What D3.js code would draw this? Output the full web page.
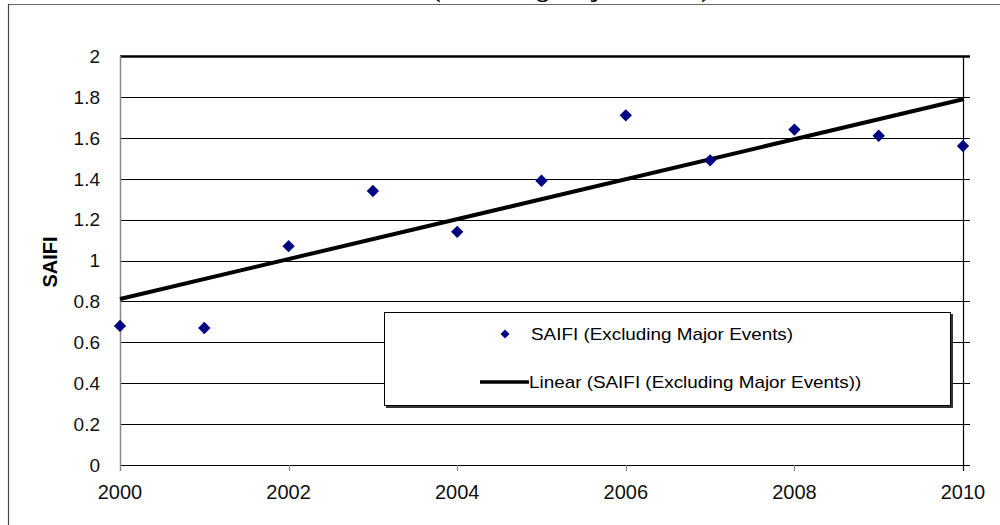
<!DOCTYPE html>
<html><head><meta charset="utf-8">
<script src="https://cdn.jsdelivr.net/npm/d3@7"></script>
<style>body{margin:0;background:#fff}svg{display:block}</style>
</head><body>
<svg id="c" width="1000" height="525"></svg>
<script>
const years = [2000,2001,2002,2003,2004,2005,2006,2007,2008,2009,2010];
const saifi = [0.68,0.67,1.07,1.34,1.14,1.39,1.71,1.49,1.64,1.61,1.56];
const xTicks = [2000,2002,2004,2006,2008,2010];
const yTicks = [0,0.2,0.4,0.6,0.8,1,1.2,1.4,1.6,1.8,2];
const yTickLabels = ["0","0.2","0.4","0.6","0.8","1","1.2","1.4","1.6","1.8","2"];
const titleText = "(Excluding Major Events)";
const yLabel = "SAIFI";
const legendLabels = ["SAIFI (Excluding Major Events)","Linear (SAIFI (Excluding Major Events))"];

const svg = d3.select("#c");
const x = d3.scaleLinear().domain([2000,2010]).range([120,963]);
const y = d3.scaleLinear().domain([0,2]).range([465,56]);

// linear regression trend
const mx = d3.mean(years), my = d3.mean(saifi);
const slope = d3.sum(years,(v,i)=>(v-mx)*(saifi[i]-my))/d3.sum(years,v=>(v-mx)*(v-mx));
const icpt = my - slope*mx;
const trend = [2000,2010].map(v=>[v, icpt+slope*v]);

// outer frame
svg.append("line").attr("x1",8).attr("x2",1000).attr("y1",4.5).attr("y2",4.5).attr("stroke","#666").attr("stroke-width",1.2);
svg.append("line").attr("x1",8.5).attr("x2",8.5).attr("y1",4).attr("y2",525).attr("stroke","#444").attr("stroke-width",1.2);

// title (clipped at top, as in the reference)
svg.append("text").attr("x",571).attr("y",-3.5).attr("text-anchor","middle")
  .attr("font-family","Liberation Serif, Times New Roman, serif").attr("font-weight","bold").attr("font-size",25)
  .text(titleText);

// gridlines
svg.append("g").selectAll("line").data(yTicks.filter(d=>d>0)).join("line")
  .attr("x1",120).attr("x2",970)
  .attr("y1",d=>Math.round(y(d))+0.5).attr("y2",d=>Math.round(y(d))+0.5)
  .attr("stroke","#000").attr("stroke-width",d=>d===2?2.5:1.2);

// x axis line
svg.append("line").attr("x1",120).attr("x2",970).attr("y1",465.5).attr("y2",465.5).attr("stroke","#000").attr("stroke-width",1.2);
// left axis (gray)
svg.append("line").attr("x1",120.5).attr("x2",120.5).attr("y1",56).attr("y2",471).attr("stroke","#888").attr("stroke-width",1.5);
// right axis
svg.append("line").attr("x1",963.5).attr("x2",963.5).attr("y1",56).attr("y2",471).attr("stroke","#000").attr("stroke-width",1.2);

// x ticks
svg.append("g").selectAll("line").data(xTicks.slice(1,-1)).join("line")
  .attr("x1",d=>Math.round(x(d))+0.5).attr("x2",d=>Math.round(x(d))+0.5)
  .attr("y1",465).attr("y2",471).attr("stroke","#888").attr("stroke-width",1.2);

// tick labels
svg.append("g").selectAll("text").data(yTicks).join("text")
  .attr("x",100).attr("y",d=>y(d)).attr("dy","0.36em").attr("text-anchor","end")
  .attr("font-family","Liberation Sans, Arial, sans-serif").attr("font-size",19).attr("fill","#111")
  .text((d,i)=>yTickLabels[i]);
svg.append("g").selectAll("text").data(xTicks).join("text")
  .attr("x",d=>x(d)).attr("y",499).attr("text-anchor","middle")
  .attr("font-family","Liberation Sans, Arial, sans-serif").attr("font-size",20).attr("fill","#111")
  .text(d=>d);

// y label
svg.append("text").attr("transform","translate(57,262) rotate(-90)").attr("text-anchor","middle")
  .attr("font-family","Liberation Sans, Arial, sans-serif").attr("font-weight","bold").attr("font-size",20)
  .text(yLabel);

// legend box
const lg = svg.append("g");
lg.append("rect").attr("x",386).attr("y",314).attr("width",567).attr("height",94).attr("fill","#333");
lg.append("rect").attr("x",384.5).attr("y",312.5).attr("width",566).attr("height",93).attr("fill","#fff").attr("stroke","#000").attr("stroke-width",1);

// trend line
const line = d3.line().x(d=>x(d[0])).y(d=>y(d[1]));
svg.append("path").datum(trend).attr("d",line).attr("stroke","#000").attr("stroke-width",4).attr("fill","none");

// points
svg.append("g").selectAll("path").data(years).join("path")
  .attr("d",d3.symbol().type(d3.symbolSquare).size(76))
  .attr("transform",(d,i)=>`translate(${x(d)},${y(saifi[i])}) rotate(45)`)
  .attr("fill","#000080");

// legend entries
lg.append("path").attr("d",d3.symbol().type(d3.symbolSquare).size(40)).attr("transform","translate(505,334) rotate(45)").attr("fill","#000080");
lg.append("text").attr("transform","translate(531,334) scale(1.18,1)").attr("dy","0.36em")
  .attr("font-family","Liberation Sans, Arial, sans-serif").attr("font-size",16).text(legendLabels[0]);
lg.append("line").attr("x1",480).attr("x2",529).attr("y1",382).attr("y2",382).attr("stroke","#000").attr("stroke-width",3.5);
lg.append("text").attr("transform","translate(529,382) scale(1.18,1)").attr("dy","0.36em")
  .attr("font-family","Liberation Sans, Arial, sans-serif").attr("font-size",16).text(legendLabels[1]);
</script>
</body></html>
